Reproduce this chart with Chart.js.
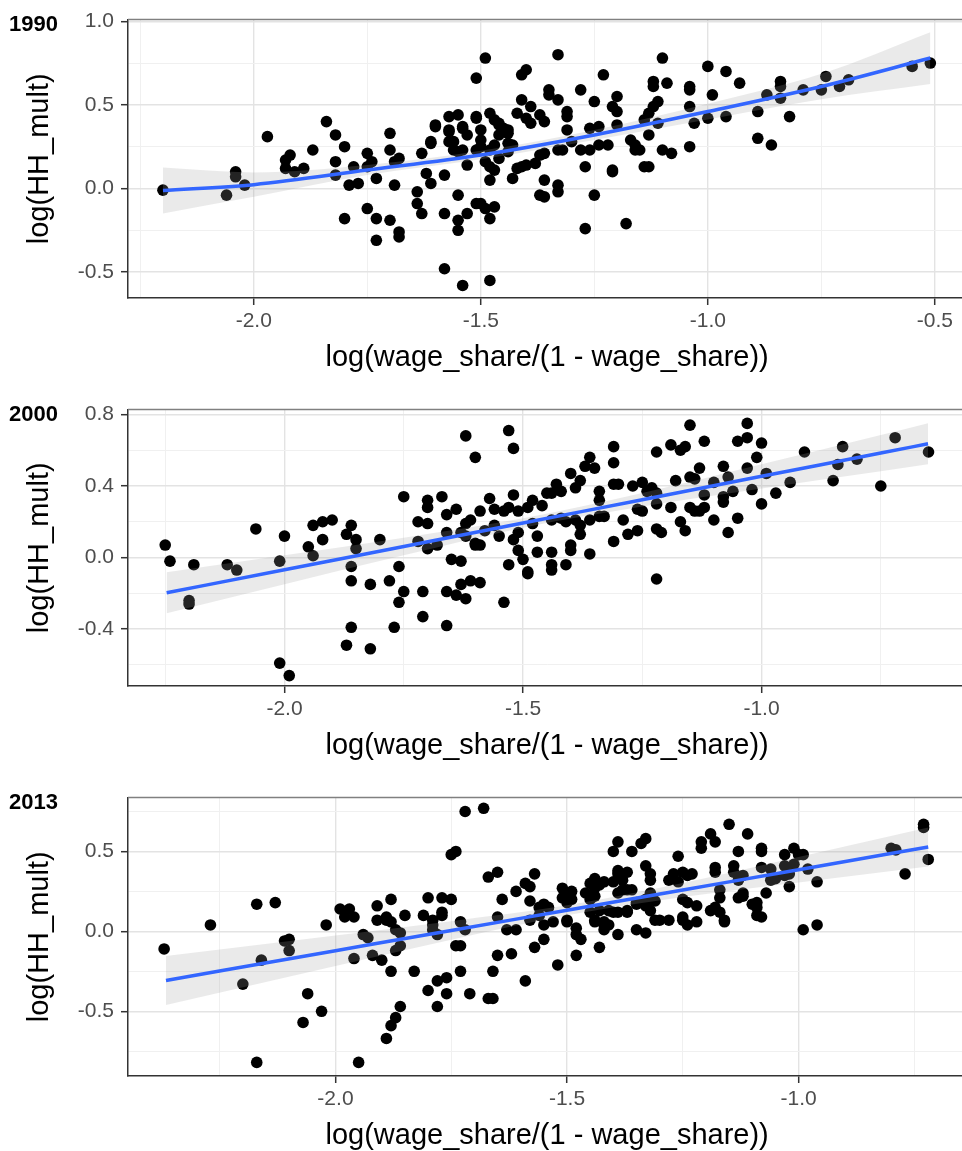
<!DOCTYPE html>
<html>
<head>
<meta charset="utf-8">
<script src="https://cdn.jsdelivr.net/npm/chart.js@4.4.1/dist/chart.umd.min.js"></script>
<style>
  html, body { margin: 0; padding: 0; background: #fff; width: 962px; height: 1151px; overflow: hidden; }
  .panel { position: absolute; left: 0; width: 972px; }
</style>
</head>
<body>
<div class="panel" style="top:0;height:378px"><canvas id="c1990"></canvas></div>
<div class="panel" style="top:390px;height:376px"><canvas id="c2000"></canvas></div>
<div class="panel" style="top:778px;height:378px"><canvas id="c2013"></canvas></div>
<script>
const FONT = "'Liberation Sans', Arial, Helvetica, sans-serif";
const X_TITLE = 'log(wage_share/(1 - wage_share))';
const Y_TITLE = 'log(HH_mult)';

const xMajor = [-2.0, -1.5, -1.0, -0.5];
const xMinor = [-2.25, -1.75, -1.25, -0.75];

// 1990
const yMajor1990 = [-0.5, 0.0, 0.5, 1.0];
const yMinor1990 = [-0.25, 0.25, 0.75];
const points1990 = [
  [-2.20,-0.01],[-2.06,-0.04],[-2.04,0.10],[-2.04,0.07],[-2.02,0.02],[-1.97,0.31],[-1.93,0.12],[-1.92,0.20],[-1.93,0.17],[-1.91,0.10],
  [-1.89,0.12],[-1.87,0.23],[-1.84,0.40],[-1.82,0.32],[-1.80,0.25],[-1.82,0.16],[-1.82,0.08],[-1.79,0.02],[-1.80,-0.18],[-1.77,0.03],
  [-1.78,0.13],[-1.75,0.21],[-1.75,0.13],[-1.74,0.16],[-1.73,0.06],[-1.75,-0.12],[-1.73,-0.18],[-1.73,-0.31],[-1.70,0.33],[-1.70,0.23],
  [-1.69,0.02],[-1.70,-0.19],[-1.68,-0.26],[-1.68,-0.29],[-1.68,0.18],[-1.69,0.16],[-1.64,-0.02],[-1.64,-0.09],[-1.63,-0.15],[-1.63,0.21],
  [-1.61,0.28],[-1.60,0.37],[-1.62,0.09],[-1.61,0.03],[-1.58,0.08],[-1.57,0.35],[-1.57,0.43],[-1.56,0.28],[-1.55,-0.04],[-1.58,-0.15],
  [-1.55,-0.19],[-1.55,-0.25],[-1.58,-0.48],[-1.54,-0.58],[-1.53,-0.15],[-1.53,0.14],[-1.54,0.37],[-1.53,0.32],[-1.51,0.66],[-1.51,0.42],
  [-1.51,-0.09],[-1.51,0.23],[-1.49,0.78],[-1.60,0.38],[-1.57,0.34],[-1.54,0.36],[-1.55,0.44],[-1.51,0.43],[-1.48,0.45],[-1.47,0.41],
  [-1.46,0.38],[-1.45,0.36],[-1.44,0.33],[-1.46,0.32],[-1.50,0.35],[-1.50,0.29],[-1.57,0.28],[-1.56,0.23],[-1.55,0.22],[-1.54,0.23],
  [-1.61,0.27],[-1.50,0.25],[-1.48,0.23],[-1.47,0.26],[-1.44,0.22],[-1.43,0.26],[-1.48,0.13],[-1.47,0.11],[-1.48,0.05],[-1.42,0.12],
  [-1.40,0.14],[-1.38,0.15],[-1.37,0.20],[-1.43,0.06],[-1.36,0.05],[-1.36,-0.05],[-1.33,0.02],[-1.33,-0.02],[-1.31,0.35],[-1.33,0.23],
  [-1.32,0.23],[-1.30,0.28],[-1.28,0.23],[-1.26,0.23],[-1.24,0.26],[-1.22,0.26],[-1.26,0.36],[-1.24,0.37],[-1.20,0.38],[-1.27,0.13],
  [-1.21,0.11],[-1.25,-0.04],[-1.27,-0.24],[-1.18,-0.21],[-1.17,0.29],[-1.16,0.23],[-1.15,0.23],[-1.14,0.13],[-1.13,0.32],[-1.50,-0.09],
  [-1.49,-0.12],[-1.48,-0.18],[-1.47,-0.11],[-1.48,-0.55],[-1.37,-0.04],[-1.14,0.41],[-1.13,0.45],[-1.33,0.80],[-1.41,0.68],[-1.40,0.71],
  [-1.41,0.53],[-1.35,0.59],[-1.35,0.56],[-1.33,0.53],[-1.28,0.59],[-1.23,0.68],[-1.25,0.52],[-1.20,0.55],[-1.10,0.78],[-1.12,0.64],
  [-1.12,0.61],[-1.09,0.63],[-1.11,0.52],[-1.12,0.49],[-1.04,0.61],[-1.04,0.59],[-1.00,0.73],[-0.99,0.56],[-0.96,0.70],[-0.93,0.63],
  [-1.04,0.49],[-1.03,0.39],[-1.00,0.42],[-0.96,0.43],[-1.04,0.25],[-1.10,0.23],[-1.08,0.21],[-1.13,0.13],[-0.89,0.46],[-0.89,0.30],
  [-0.86,0.26],[-0.82,0.43],[-0.87,0.56],[-0.84,0.64],[-0.84,0.61],[-0.84,0.54],[-0.79,0.59],[-0.74,0.67],[-0.75,0.59],[-0.71,0.61],
  [-0.69,0.65],[-0.55,0.73],[-0.51,0.75],[-1.21,0.49],[-1.20,0.46],[-1.39,0.49],[-1.37,0.44],[-1.36,0.40],[-1.42,0.45],[-1.40,0.42],
  [-1.39,0.39],[-1.31,0.46],[-1.31,0.43],[-1.36,0.21],[-1.41,0.13],[-1.21,0.10],[-1.46,0.39],[-1.44,0.35],[-1.44,0.27],[-1.16,0.26],
  [-1.11,0.39],[-1.46,0.18],[-1.49,0.16]
];
// loess smooth with its confidence band
const fitX1990  = [-2.20, -2.00, -1.75, -1.50, -1.25, -1.00, -0.75, -0.51];
const fitY1990  = [-0.012, 0.023, 0.11, 0.20, 0.32, 0.46, 0.61, 0.78];
const fitLo1990 = [-0.149, -0.05, 0.08, 0.175, 0.29, 0.413, 0.534, 0.625];
const fitHi1990 = [0.125, 0.096, 0.14, 0.225, 0.35, 0.507, 0.686, 0.935];

// 2000
const yMajor2000 = [-0.4, 0.0, 0.4, 0.8];
const yMinor2000 = [-0.6, -0.2, 0.2, 0.6];
const points2000 = [
  [-2.25,0.07],[-2.24,-0.02],[-2.20,-0.24],[-2.20,-0.26],[-2.19,-0.04],[-2.12,-0.04],[-2.10,-0.07],[-2.06,0.16],[-2.01,-0.02],[-2.00,0.12],
  [-2.01,-0.59],[-1.99,-0.66],[-1.95,0.06],[-1.94,0.18],[-1.94,0.01],[-1.92,0.10],[-1.92,0.20],[-1.90,0.21],[-1.86,0.18],[-1.87,0.13],
  [-1.85,0.10],[-1.85,0.05],[-1.86,-0.05],[-1.86,-0.13],[-1.86,-0.39],[-1.87,-0.49],[-1.82,-0.51],[-1.82,-0.15],[-1.80,0.10],[-1.78,-0.13],
  [-1.76,-0.05],[-1.75,-0.19],[-1.76,-0.25],[-1.77,-0.39],[-1.75,0.34],[-1.72,0.20],[-1.72,0.09],[-1.71,-0.19],[-1.71,-0.33],[-1.70,0.28],
  [-1.70,0.32],[-1.70,0.19],[-1.67,0.34],[-1.70,0.05],[-1.68,0.07],[-1.66,0.24],[-1.64,0.27],[-1.66,0.14],[-1.65,-0.01],[-1.63,-0.02],
  [-1.66,-0.19],[-1.64,-0.21],[-1.62,-0.23],[-1.63,-0.15],[-1.61,-0.13],[-1.66,-0.38],[-1.62,0.68],[-1.60,0.56],[-1.62,0.19],[-1.61,0.21],
  [-1.63,0.14],[-1.62,0.12],[-1.60,0.07],[-1.53,0.71],[-1.52,0.61],[-1.54,-0.25],[-1.49,-0.09],[-1.44,0.03],[-1.44,-0.04],[-1.44,-0.07],
  [-1.41,-0.04],[-1.40,0.07],[-1.40,0.04],[-1.47,0.03],[-1.53,-0.04],[-1.50,-0.01],[-1.36,0.02],[-1.31,0.09],[-1.28,0.13],[-1.26,0.15],
  [-1.29,0.21],[-1.22,0.16],[-1.21,0.14],[-1.22,-0.12],[-1.16,0.15],[-1.17,0.20],[-1.10,0.21],[-1.07,0.14],[-1.05,0.22],[-1.00,0.30],
  [-0.97,0.36],[-0.94,0.42],[-0.85,0.43],[-0.75,0.40],[-0.91,0.59],[-0.83,0.62],[-0.84,0.52],[-0.80,0.55],[-0.72,0.67],[-0.65,0.59],
  [-1.00,0.64],[-1.01,0.56],[-1.03,0.50],[-0.99,0.47],[-1.02,0.38],[-1.03,0.75],[-1.03,0.67],[-1.05,0.65],[-1.08,0.51],[-1.07,0.45],
  [-1.06,0.37],[-1.08,0.31],[-1.08,0.34],[-1.12,0.65],[-1.15,0.74],[-1.19,0.63],[-1.17,0.60],[-1.16,0.62],[-1.22,0.59],[-1.13,0.50],
  [-1.15,0.45],[-1.14,0.44],[-1.18,0.43],[-1.12,0.35],[-1.12,0.28],[-1.13,0.26],[-1.10,0.42],[-1.15,0.28],[-1.14,0.26],[-1.19,0.28],
  [-1.22,0.30],[-1.22,0.36],[-1.25,0.42],[-1.23,0.39],[-1.24,0.37],[-1.27,0.40],[-1.31,0.41],[-1.30,0.41],[-1.31,0.53],[-1.31,0.62],
  [-1.35,0.50],[-1.36,0.56],[-1.37,0.51],[-1.40,0.47],[-1.38,0.43],[-1.39,0.39],[-1.43,0.41],[-1.42,0.37],[-1.44,0.36],[-1.45,0.36],
  [-1.34,0.37],[-1.34,0.32],[-1.26,0.27],[-1.25,0.26],[-1.46,0.29],[-1.48,0.32],[-1.49,0.28],[-1.51,0.26],[-1.52,0.35],[-1.53,0.28],
  [-1.57,0.33],[-1.56,0.27],[-1.54,0.26],[-1.59,0.26],[-1.56,0.18],[-1.58,0.15],[-1.55,0.12],[-1.52,0.10],[-1.51,0.14],[-1.48,0.19],
  [-1.47,0.12],[-1.44,0.21],[-1.42,0.22],[-1.41,0.20],[-1.39,0.21],[-1.38,0.18],[-1.36,0.21],[-1.34,0.23],[-1.33,0.23],[-1.38,0.13],
  [-1.59,0.07],[-1.59,-0.14],[-1.60,0.08],[-1.51,0.04],[-1.49,-0.08]
];
const fitX2000  = [-2.247, -2.00, -1.75, -1.50, -1.25, -1.00, -0.75, -0.651];
const fitY2000  = [-0.197, -0.068, 0.062, 0.193, 0.323, 0.454, 0.584, 0.636];
const fitLo2000 = [-0.312, -0.149, 0.013, 0.167, 0.285, 0.386, 0.483, 0.521];
const fitHi2000 = [-0.082, 0.013, 0.111, 0.219, 0.361, 0.522, 0.685, 0.751];

// 2013
const xMajor2013 = [-2.0, -1.5, -1.0];
const yMajor2013 = [-0.5, 0.0, 0.5];
const yMinor2013 = [-0.75, -0.25, 0.25, 0.75];
const points2013 = [
  [-2.37,-0.11],[-2.27,0.04],[-2.17,0.17],[-2.13,0.18],[-2.16,-0.18],[-2.20,-0.33],[-2.17,-0.82],[-2.11,-0.06],[-2.10,-0.05],[-2.10,-0.12],
  [-2.06,-0.39],[-2.07,-0.57],[-2.03,-0.50],[-2.02,0.04],[-1.99,0.14],[-1.97,0.14],[-1.98,0.09],[-1.96,0.09],[-1.96,-0.17],[-1.95,-0.82],
  [-1.94,-0.02],[-1.93,-0.04],[-1.91,0.07],[-1.91,0.16],[-1.89,0.09],[-1.89,0.07],[-1.88,0.06],[-1.87,0.01],[-1.88,0.20],[-1.92,-0.15],
  [-1.90,-0.18],[-1.88,-0.25],[-1.87,-0.12],[-1.86,-0.09],[-1.86,-0.47],[-1.87,-0.54],[-1.88,-0.59],[-1.89,-0.67],[-1.85,0.10],[-1.83,-0.25],
  [-1.81,0.10],[-1.80,0.21],[-1.79,0.07],[-1.79,0.01],[-1.78,-0.02],[-1.77,0.10],[-1.77,0.21],[-1.75,0.20],[-1.80,-0.37],[-1.78,-0.31],
  [-1.76,-0.29],[-1.78,-0.47],[-1.76,-0.39],[-1.75,0.48],[-1.74,0.50],[-1.72,0.75],[-1.73,0.06],[-1.72,0.01],[-1.74,-0.09],[-1.73,-0.09],
  [-1.73,-0.25],[-1.71,-0.39],[-1.68,0.77],[-1.67,0.34],[-1.65,0.37],[-1.64,0.20],[-1.65,0.09],[-1.65,-0.15],[-1.66,-0.25],[-1.67,-0.42],
  [-1.66,-0.42],[-1.62,-0.14],[-1.59,-0.31],[-1.63,0.01],[-1.61,0.01],[-1.61,0.25],[-1.59,0.30],[-1.58,0.28],[-1.57,0.36],[-1.58,0.19],
  [-1.56,0.15],[-1.58,0.07],[-1.57,-0.10],[-1.55,-0.05],[-1.52,-0.21],[-1.55,0.04],[-1.53,0.06],[-1.54,0.15],[-1.55,0.17],[-1.51,0.27],
  [-1.50,0.24],[-1.49,0.25],[-1.51,0.21],[-1.50,0.18],[-1.49,0.20],[-1.50,0.07],[-1.48,0.02],[-1.48,-0.02],[-1.48,-0.15],[-1.45,0.30],
  [-1.44,0.32],[-1.44,0.27],[-1.43,0.29],[-1.42,0.31],[-1.40,0.31],[-1.46,0.24],[-1.45,0.20],[-1.44,0.22],[-1.45,0.12],[-1.44,0.07],
  [-1.42,0.06],[-1.42,0.04],[-1.43,0.13],[-1.43,-0.10],[-1.39,0.56],[-1.40,0.50],[-1.33,0.58],[-1.34,0.55],[-1.36,0.50],[-1.39,0.38],
  [-1.37,0.37],[-1.38,0.32],[-1.38,0.26],[-1.37,0.26],[-1.39,0.24],[-1.41,0.13],[-1.39,0.12],[-1.37,0.12],[-1.35,0.17],[-1.33,0.16],
  [-1.39,-0.02],[-1.35,0.01],[-1.33,-0.01],[-1.33,0.41],[-1.32,0.36],[-1.32,0.32],[-1.32,0.24],[-1.31,0.19],[-1.32,0.13],[-1.30,0.07],
  [-1.28,0.07],[-1.28,0.32],[-1.26,0.31],[-1.27,0.36],[-1.26,0.47],[-1.25,0.37],[-1.24,0.35],[-1.23,0.36],[-1.25,0.20],[-1.24,0.18],
  [-1.22,0.16],[-1.25,0.09],[-1.24,0.04],[-1.22,0.06],[-1.21,0.52],[-1.21,0.56],[-1.19,0.61],[-1.18,0.56],[-1.15,0.67],[-1.18,0.40],
  [-1.18,0.37],[-1.17,0.26],[-1.17,0.21],[-1.19,0.13],[-1.18,0.15],[-1.17,0.12],[-1.16,0.07],[-1.16,0.06],[-1.13,0.50],[-1.14,0.41],
  [-1.14,0.37],[-1.13,0.32],[-1.12,0.22],[-1.12,0.24],[-1.11,0.61],[-1.08,0.52],[-1.08,0.50],[-1.08,0.40],[-1.06,0.32],[-1.07,0.24],
  [-1.09,0.15],[-1.09,0.18],[-1.08,0.09],[-1.03,0.48],[-1.01,0.52],[-1.00,0.48],[-0.99,0.48],[-1.03,0.41],[-1.01,0.42],[-1.03,0.35],
  [-1.02,0.36],[-1.02,0.28],[-0.98,0.39],[-0.96,0.31],[-0.99,0.01],[-0.96,0.04],[-0.80,0.52],[-0.79,0.51],[-0.77,0.36],[-0.73,0.67],
  [-0.73,0.65],[-0.72,0.45],[-1.44,0.33],[-1.39,0.36],[-1.36,0.26],[-1.56,0.10],[-1.50,0.06],[-1.47,-0.05],[-1.44,0.06],[-1.42,0.01],
  [-1.41,0.04],[-1.40,0.12],[-1.37,0.13],[-1.35,0.18],[-1.33,0.20],[-1.31,0.07],[-1.25,0.07],[-1.12,0.35],[-1.13,0.21],[-1.10,0.17],
  [-1.09,0.10],[-1.06,0.39],[-1.05,0.33],[-1.77,0.12],[-1.79,0.04],[-1.86,-0.01]
];
const fitX2013  = [-2.366, -2.00, -1.75, -1.50, -1.25, -1.00, -0.72];
const fitY2013  = [-0.307, -0.121, 0.006, 0.132, 0.259, 0.386, 0.528];
const fitLo2013 = [-0.460, -0.216, -0.052, 0.101, 0.215, 0.306, 0.406];
const fitHi2013 = [-0.154, -0.026, 0.064, 0.163, 0.303, 0.466, 0.650];

function near(list, v) {
  return list.some(m => Math.abs(m - v) < 1e-9);
}

function series(xs, ys) {
  return xs.map((x, i) => ({ x: x, y: ys[i] }));
}

// border on top of the panel and the year tag at its left corner
const panelDecor = {
  id: 'panelDecor',
  afterDraw(chart, args, opts) {
    const ctx = chart.ctx;
    const a = chart.chartArea;
    ctx.save();
    ctx.strokeStyle = '#808080';
    ctx.lineWidth = 1.5;
    ctx.beginPath();
    ctx.moveTo(a.left, a.top);
    ctx.lineTo(a.right, a.top);
    ctx.stroke();
    ctx.fillStyle = '#000';
    ctx.font = 'bold 22px ' + FONT;
    ctx.textBaseline = 'middle';
    ctx.textAlign = 'left';
    ctx.fillText(opts.year, 9, a.top + 5);
    ctx.restore();
  }
};

function makePanel(id, p) {
  const allX = p.xMajor.concat(xMinor);
  const allY = p.yMajor.concat(p.yMinor);
  const tickFont = { family: FONT, size: 21 };
  const titleFont = { family: FONT, size: 29 };

  const grid = major => ({
    color: c => near(major, c.tick.value) ? '#e3e3e3' : '#f0f0f0',
    lineWidth: c => near(major, c.tick.value) ? 1.4 : 1,
    tickLength: 7,
    tickColor: c => near(major, c.tick.value) ? '#333' : 'rgba(0,0,0,0)',
    tickWidth: 1.5
  });

  new Chart(document.getElementById(id), {
    type: 'scatter',
    data: {
      datasets: [
        {
          type: 'line',
          data: series(p.fitX, p.fitHi),
          borderWidth: 0,
          borderColor: 'rgba(0,0,0,0)',
          backgroundColor: 'rgba(160,160,160,0.22)',
          pointRadius: 0,
          fill: '+1',
          cubicInterpolationMode: 'monotone',
          order: 2
        },
        {
          type: 'line',
          data: series(p.fitX, p.fitLo),
          borderWidth: 0,
          borderColor: 'rgba(0,0,0,0)',
          pointRadius: 0,
          fill: false,
          cubicInterpolationMode: 'monotone',
          order: 2
        },
        {
          type: 'line',
          data: series(p.fitX, p.fitY),
          borderColor: '#3366FF',
          borderWidth: 3.5,
          pointRadius: 0,
          fill: false,
          cubicInterpolationMode: 'monotone',
          order: 1
        },
        {
          data: p.points.map(d => ({ x: d[0], y: d[1] })),
          backgroundColor: '#000',
          borderWidth: 0,
          pointRadius: 5.8,
          pointHoverRadius: 5.8,
          order: 3
        }
      ]
    },
    options: {
      responsive: true,
      maintainAspectRatio: false,
      animation: false,
      events: [],
      layout: { padding: { top: p.padTop, right: 4, left: 0, bottom: 0 } },
      plugins: {
        legend: { display: false },
        tooltip: { enabled: false },
        panelDecor: { year: p.year }
      },
      scales: {
        x: {
          type: 'linear',
          min: p.xMin,
          max: p.xMax,
          afterBuildTicks: s => { s.ticks = allX.map(v => ({ value: v })); },
          afterFit: s => { s.height = 80; },
          ticks: {
            callback: v => near(p.xMajor, v) ? v.toFixed(1) : '',
            color: '#4d4d4d',
            font: tickFont,
            padding: 4,
            maxRotation: 0,
            autoSkip: false
          },
          grid: grid(p.xMajor),
          border: { color: '#333', width: 1.5 },
          title: {
            display: true,
            text: X_TITLE,
            color: '#000',
            font: titleFont,
            padding: { top: 0, bottom: 3 }
          }
        },
        y: {
          type: 'linear',
          min: p.yMin,
          max: p.yMax,
          afterBuildTicks: s => { s.ticks = allY.map(v => ({ value: v })); },
          afterFit: s => { s.width = 128; },
          ticks: {
            callback: v => near(p.yMajor, v) ? v.toFixed(1) : '',
            color: '#4d4d4d',
            font: tickFont,
            padding: 7,
            autoSkip: false
          },
          grid: grid(p.yMajor),
          border: { color: '#333', width: 1.5 },
          title: {
            display: true,
            text: Y_TITLE,
            color: '#000',
            font: titleFont,
            padding: { top: 23, bottom: 0 }
          }
        }
      }
    },
    plugins: [panelDecor]
  });
}

makePanel('c1990', {
  year: '1990', padTop: 15,
  xMin: -2.277, xMax: -0.431, yMin: -0.655, yMax: 1.01,
  xMajor: xMajor, yMajor: yMajor1990, yMinor: yMinor1990,
  points: points1990,
  fitX: fitX1990, fitY: fitY1990, fitLo: fitLo1990, fitHi: fitHi1990
});

makePanel('c2000', {
  year: '2000', padTop: 14,
  xMin: -2.328, xMax: -0.571, yMin: -0.718, yMax: 0.827,
  xMajor: xMajor2013, yMajor: yMajor2000, yMinor: yMinor2000,
  points: points2000,
  fitX: fitX2000, fitY: fitY2000, fitLo: fitLo2000, fitHi: fitHi2000
});

makePanel('c2013', {
  year: '2013', padTop: 14,
  xMin: -2.448, xMax: -0.638, yMin: -0.905, yMax: 0.837,
  xMajor: xMajor2013, yMajor: yMajor2013, yMinor: yMinor2013,
  points: points2013,
  fitX: fitX2013, fitY: fitY2013, fitLo: fitLo2013, fitHi: fitHi2013
});
</script>
</body>
</html>
